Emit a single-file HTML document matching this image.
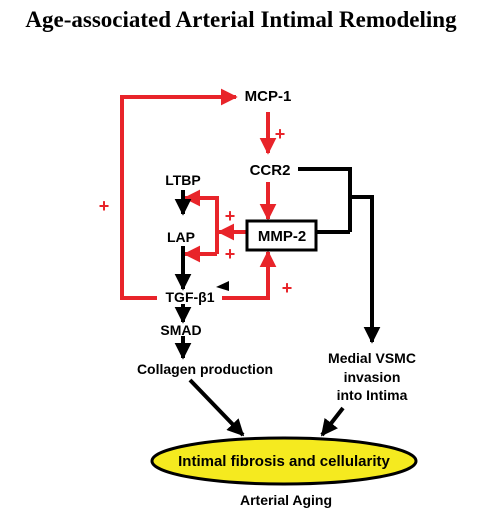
<!DOCTYPE html>
<html><head><meta charset="utf-8"><style>
html,body{margin:0;padding:0;background:#fff;}
svg text{font-family:"Liberation Sans",sans-serif;font-weight:bold;}
</style></head><body>
<svg width="482" height="514" viewBox="0 0 482 514">
<defs>
<marker id="ar" viewBox="0 0 10 10" refX="9" refY="5" markerWidth="4.2" markerHeight="4.2" orient="auto"><path d="M0,0L10,5L0,10z" fill="#e8242a"/></marker>
<marker id="ab" viewBox="0 0 10 10" refX="9" refY="5" markerWidth="4.2" markerHeight="4.2" orient="auto"><path d="M0,0L10,5L0,10z" fill="#000"/></marker>
</defs>
<text x="241" y="27" text-anchor="middle" style="font-family:'Liberation Serif',serif;font-size:23px;font-weight:bold">Age-associated Arterial Intimal Remodeling</text>
<g fill="none" stroke="#e8242a" stroke-width="4">
<polyline points="157,298 122,298 122,97 236,97" marker-end="url(#ar)"/>
<line x1="268" y1="112" x2="268" y2="153" marker-end="url(#ar)"/>
<line x1="268" y1="182" x2="268" y2="219" marker-end="url(#ar)"/>
<line x1="247" y1="232" x2="219" y2="232" marker-end="url(#ar)"/>
<polyline points="217,254 217,198 185,198" marker-end="url(#ar)"/>
<line x1="217" y1="254" x2="185" y2="254" marker-end="url(#ar)"/>
<polyline points="222,298 268,298 268,252" marker-end="url(#ar)"/>
</g>
<g fill="#e8242a" font-size="18" text-anchor="middle">
<text x="104" y="212">+</text>
<text x="280" y="140">+</text>
<text x="230" y="222">+</text>
<text x="230" y="260">+</text>
<text x="287" y="294">+</text>
</g>
<g fill="none" stroke="#000" stroke-width="4">
<polyline points="298,169 350,169"/>
<line x1="350" y1="167" x2="350" y2="232"/>
<line x1="316" y1="232" x2="350" y2="232"/>
<polyline points="350,197 372,197 372,342" marker-end="url(#ab)"/>
<line x1="183" y1="190" x2="183" y2="214" marker-end="url(#ab)"/>
<line x1="183" y1="246" x2="183" y2="289" marker-end="url(#ab)"/>
<line x1="183" y1="304" x2="183" y2="322" marker-end="url(#ab)"/>
<line x1="183" y1="336" x2="183" y2="358" marker-end="url(#ab)"/>
<line x1="190" y1="380" x2="243" y2="435" marker-end="url(#ab)"/>
<line x1="343" y1="408" x2="322" y2="435" marker-end="url(#ab)"/>
<rect x="247" y="221" width="69" height="29" fill="#fff" stroke-width="3"/>
</g>
<path d="M216,287 L229,281 L229,291z" fill="#000"/>
<g fill="#000" font-size="14" text-anchor="middle">
<text x="268" y="101" font-size="15">MCP-1</text>
<text x="270" y="175" font-size="15">CCR2</text>
<text x="183" y="185">LTBP</text>
<text x="181" y="242">LAP</text>
<text x="282" y="241" font-size="15">MMP-2</text>
<text x="190" y="302">TGF-β1</text>
<text x="181" y="335">SMAD</text>
<text x="205" y="374">Collagen production</text>
<text x="372" y="363">Medial VSMC</text>
<text x="372" y="382">invasion</text>
<text x="372" y="400">into Intima</text>
</g>
<ellipse cx="284" cy="461" rx="132" ry="23" fill="#f5ea1f" stroke="#000" stroke-width="3"/>
<text x="284" y="466" text-anchor="middle" font-size="15">Intimal fibrosis and cellularity</text>
<text x="286" y="505" text-anchor="middle" font-size="14">Arterial Aging</text>
</svg>
</body></html>
